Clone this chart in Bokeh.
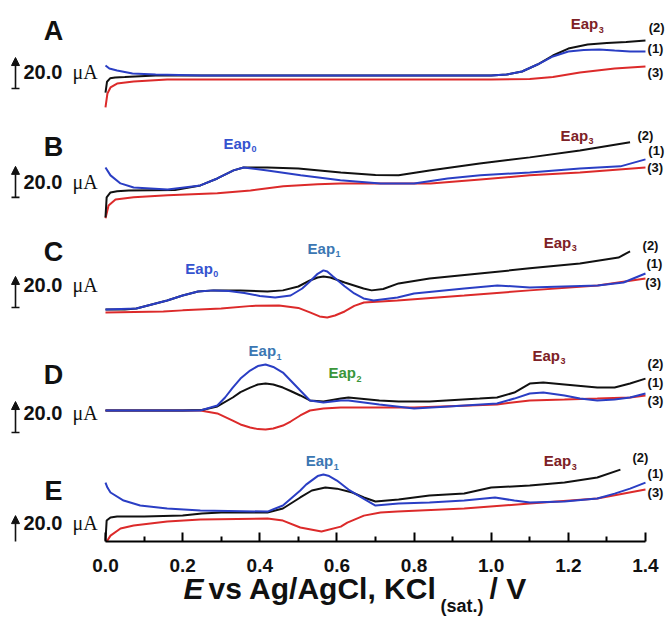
from bokeh.plotting import figure
from bokeh.layouts import column
from bokeh.models import (Range1d, FixedTicker, NumeralTickFormatter,
                          Label, Arrow, NormalHead, TeeHead)
from bokeh.embed import file_html
from bokeh.resources import INLINE

# ---------------- data: potential (V) / current (uA, relative to each panel's resting level)
# (1) blue, (2) black, (3) red
A_x1 = [0.0, 0.01, 0.03, 0.07, 0.13, 0.25, 0.5, 0.8, 1.0, 1.04, 1.08, 1.12, 1.16, 1.2, 1.24, 1.28, 1.32, 1.36, 1.4]
A_i1 = [6.5, 4.5, 3.2, 1.3, 0.6, 0, 0, 0, 0, 0.6, 2.6, 7.1, 12.3, 15.5, 16.5, 16.8, 16.1, 15.5, 15.5]
A_x2 = [0.0, 0.004, 0.012, 0.025, 0.05, 0.13, 0.4, 0.7, 1.0, 1.04, 1.08, 1.12, 1.16, 1.2, 1.25, 1.3, 1.35, 1.4]
A_i2 = [-11, -4, -1.8, -1.3, -1.0, 0, 0, 0, 0, 0.6, 2.6, 7.1, 12.9, 17.4, 20, 21, 21.6, 22.6]
A_x3 = [0.0, 0.005, 0.013, 0.03, 0.073, 0.16, 0.5, 0.8, 1.0, 1.1, 1.16, 1.23, 1.32, 1.4]
A_i3 = [-20.6, -11.6, -7.7, -5.2, -3.9, -2.6, -2.6, -2.6, -2.6, -2.3, -1.0, 1.9, 4.5, 5.8]

B_x1 = [0.0, 0.013, 0.039, 0.073, 0.161, 0.246, 0.29, 0.332, 0.358, 0.42, 0.506, 0.609, 0.713, 0.8, 0.887, 0.972, 1.1, 1.23, 1.335, 1.4]
B_i1 = [14.8, 9.7, 4.5, 1.9, 0.6, 3.2, 7.7, 12.9, 14.8, 12.9, 9.7, 6.5, 4.5, 4.5, 7.7, 9.7, 11.6, 14.2, 15.5, 20]
B_x2 = [0.0, 0.003, 0.013, 0.03, 0.06, 0.18, 0.246, 0.29, 0.332, 0.358, 0.42, 0.5, 0.61, 0.7, 0.76, 0.84, 0.97, 1.1, 1.23, 1.36]
B_i2 = [-17.4, -4.5, -1.3, -0.6, 0, 0.3, 3.2, 7.7, 12.9, 14.8, 14.8, 14.2, 11.6, 9.9, 9.7, 12.9, 17.4, 21.3, 25.8, 31]
B_x3 = [0.0, 0.008, 0.026, 0.073, 0.161, 0.29, 0.376, 0.461, 0.55, 0.609, 0.713, 0.843, 0.972, 1.1, 1.23, 1.4]
B_i3 = [-18, -9.7, -5.8, -4.5, -3.2, -1.9, 0, 2.6, 3.9, 4.5, 4.5, 4.5, 7.1, 9.7, 11.6, 14.8]

C_x1 = [0.0, 0.08, 0.12, 0.16, 0.2, 0.24, 0.28, 0.32, 0.36, 0.4, 0.44, 0.48, 0.51, 0.53, 0.55, 0.565, 0.575, 0.59, 0.62, 0.645, 0.669, 0.695, 0.757, 0.8, 0.93, 1.016, 1.1, 1.276, 1.343, 1.4]
C_i1 = [0, 0.6, 3.2, 5.8, 9, 11.6, 12.3, 11.9, 10.6, 8.7, 7.7, 9, 13.5, 18, 23, 25.2, 24.5, 21.3, 15, 10.3, 7.1, 5.8, 7.7, 10.3, 13.5, 15.5, 14.2, 15.5, 17.4, 23.2]
C_x2 = [0.0, 0.05, 0.08, 0.12, 0.16, 0.2, 0.24, 0.28, 0.35, 0.42, 0.46, 0.5, 0.53, 0.55, 0.565, 0.583, 0.62, 0.669, 0.69, 0.72, 0.76, 0.84, 0.97, 1.1, 1.23, 1.33, 1.36]
C_i2 = [0, 0, 0.6, 3.2, 5.8, 9, 11.6, 12.3, 12.3, 11.6, 12.3, 14.8, 18.7, 20.6, 21.3, 20.6, 17.4, 13.5, 12.3, 13.2, 16.8, 20, 23.2, 26.5, 29.7, 33.5, 37.4]
C_x3 = [0.0, 0.15, 0.2, 0.3, 0.38, 0.45, 0.5, 0.53, 0.555, 0.575, 0.595, 0.62, 0.645, 0.67, 0.757, 0.93, 1.1, 1.276, 1.4]
C_i3 = [-1.9, -1.3, -0.6, 0.6, 2.3, 2.6, 1, -1.9, -4.5, -5.2, -3.9, -1.3, 2.3, 4.5, 5.8, 9, 12.3, 15.5, 20]

D_x1 = [0.0, 0.2, 0.246, 0.29, 0.31, 0.33, 0.35, 0.375, 0.395, 0.415, 0.435, 0.46, 0.48, 0.505, 0.53, 0.565, 0.61, 0.63, 0.71, 0.8, 0.89, 1.015, 1.06, 1.1, 1.135, 1.19, 1.23, 1.275, 1.32, 1.36, 1.4]
D_i1 = [0, 0, 0, 3.2, 8.4, 14.8, 20.6, 25.8, 28.7, 29.7, 28.1, 24.5, 19.4, 12.9, 6.5, 5.2, 6.5, 6.5, 3.9, 1.3, 2.6, 4.5, 7.7, 11, 11.6, 9.7, 7.7, 6.5, 7.1, 8.4, 11]
D_x2 = [0.0, 0.2, 0.25, 0.29, 0.33, 0.35, 0.375, 0.395, 0.415, 0.435, 0.46, 0.48, 0.505, 0.53, 0.565, 0.61, 0.63, 0.71, 0.76, 0.84, 0.97, 1.015, 1.06, 1.1, 1.135, 1.19, 1.275, 1.32, 1.36, 1.4]
D_i2 = [0, 0, 0.3, 2.6, 8.4, 11.9, 14.8, 16.8, 17.4, 16.8, 14.8, 12.6, 9.7, 6.5, 5.8, 7.7, 8.4, 6.5, 5.8, 5.8, 7.7, 8.4, 11.6, 17.4, 18, 16.8, 14.8, 14.8, 17.4, 20.6]
D_x3 = [0.0, 0.2, 0.246, 0.29, 0.33, 0.35, 0.375, 0.395, 0.415, 0.435, 0.46, 0.48, 0.505, 0.53, 0.565, 0.61, 0.8, 1.015, 1.1, 1.19, 1.275, 1.36, 1.4]
D_i3 = [0, 0, 0, -1.9, -6.5, -9, -11, -12, -12.3, -11.6, -9.7, -7.1, -3.2, 0, 1.3, 1.9, 1.9, 3.9, 6.5, 7.1, 7.7, 8.4, 9.7]

E_x1 = [0.0, 0.005, 0.013, 0.047, 0.09, 0.16, 0.246, 0.42, 0.46, 0.505, 0.52, 0.55, 0.565, 0.58, 0.6, 0.63, 0.66, 0.7, 0.76, 0.84, 0.93, 1.01, 1.06, 1.1, 1.19, 1.275, 1.32, 1.36, 1.4]
E_i1 = [21.9, 18.7, 15.5, 10.3, 7.1, 5.2, 3.9, 3.2, 7.1, 16.8, 20.6, 26.1, 27.1, 26.1, 23.2, 17.4, 12.9, 7.1, 8.4, 9, 10.3, 12.3, 10.3, 9, 9.7, 11.6, 14.8, 18, 21.9]
E_x2 = [0.0, 0.003, 0.013, 0.03, 0.1, 0.2, 0.25, 0.3, 0.42, 0.46, 0.505, 0.535, 0.57, 0.6, 0.64, 0.67, 0.7, 0.76, 0.84, 0.93, 1.0, 1.1, 1.19, 1.275, 1.335]
E_i2 = [-15.5, -2.6, -0.6, 0, 0, 0.6, 1.9, 2.6, 2.6, 5.2, 12.3, 16.8, 18.7, 18, 15.5, 12.3, 9.7, 11, 13.5, 14.8, 18.7, 20, 21.9, 25.2, 30.3]
E_x3 = [0.0, 0.013, 0.039, 0.073, 0.16, 0.246, 0.42, 0.46, 0.505, 0.56, 0.61, 0.627, 0.67, 0.713, 0.757, 0.93, 1.1, 1.275, 1.4]
E_i3 = [-17.4, -12.3, -7.7, -5.8, -3.2, -1.9, -1.3, -2.6, -7.1, -9.7, -6.5, -3.9, 0.6, 2.6, 3.2, 5.2, 8.4, 11.6, 17.4]

PANEL_NAMES = ["A", "B", "C", "D", "E"]
SCALE_UA = 20.0
SCALE_TEXT = "20.0"
X_TICKS = [0.0, 0.2, 0.4, 0.6, 0.8, 1.0, 1.2, 1.4]
X_MINOR = [0.1, 0.3, 0.5, 0.7, 0.9, 1.1, 1.3]

# ---------------- layout / style
BLUE, BLACK, RED = "#2a3ec4", "#111111", "#dc2a2a"
EAP_COL = {"0": "#3553cf", "1": "#3b77b3", "2": "#3a963a", "3": "#7d2126"}
SANS, SERIF = "Liberation Sans", "Liberation Serif"

PANEL_OFFSET = [300.6, 226.5, 149.7, 84.5, 16.1]
LETTER_DY = [29, 27.7, 36.8, 22.6, 16.8]
SCALE_TEXT_DY = [2, 5.2, 15.5, -1.3, -3.9]
SCALE_BOTTOM_DY = [-8.4, -4.5, 1.3, -14.2, -19.4]
# (panel, subscript, x left, dy)
EAP_LABELS = [(0, "3", 1.206, 33.5),
              (1, "0", 0.306, 30.3), (1, "3", 1.18, 35.5),
              (2, "0", 0.207, 26.5), (2, "1", 0.524, 39.4), (2, "3", 1.136, 43.5),
              (3, "1", 0.371, 38.7), (3, "2", 0.578, 24.5), (3, "3", 1.107, 35.5),
              (4, "1", 0.519, 36.1), (4, "3", 1.136, 36.1)]
# (panel, text, x centre, dy)
NUM_LABELS = [(0, "(2)", 1.429, 31), (0, "(1)", 1.426, 17.4), (0, "(3)", 1.426, 1.9),
              (1, "(2)", 1.40, 35.5), (1, "(1)", 1.428, 25.8), (1, "(3)", 1.425, 14.8),
              (2, "(2)", 1.413, 41.3), (2, "(1)", 1.423, 29.7), (2, "(3)", 1.42, 17.4),
              (3, "(2)", 1.426, 30.3), (3, "(1)", 1.426, 18), (3, "(3)", 1.426, 6.5),
              (4, "(2)", 1.387, 38.1), (4, "(1)", 1.426, 27.7), (4, "(3)", 1.426, 15.5)]

DATA = {
    "A": [(A_x3, A_i3, RED), (A_x2, A_i2, BLACK), (A_x1, A_i1, BLUE)],
    "B": [(B_x3, B_i3, RED), (B_x2, B_i2, BLACK), (B_x1, B_i1, BLUE)],
    "C": [(C_x3, C_i3, RED), (C_x2, C_i2, BLACK), (C_x1, C_i1, BLUE)],
    "D": [(D_x3, D_i3, RED), (D_x2, D_i2, BLACK), (D_x1, D_i1, BLUE)],
    "E": [(E_x3, E_i3, RED), (E_x2, E_i2, BLACK), (E_x1, E_i1, BLUE)],
}

XR = Range1d(-0.2722, 1.4545)
MAIN_H = 582

p = figure(width=666, height=MAIN_H, output_backend="svg", toolbar_location=None,
           x_range=XR, y_range=Range1d(0, 349.0),
           min_border_left=0, min_border_right=0, min_border_top=0,
           min_border_bottom=MAIN_H - 541, y_axis_location=None)
p.outline_line_color = None
p.grid.visible = False
p.background_fill_color = "white"
p.border_fill_color = "white"

ax = p.xaxis[0]
ax.ticker = FixedTicker(ticks=X_TICKS, minor_ticks=X_MINOR)
ax.formatter = NumeralTickFormatter(format="0.0")
ax.bounds = (X_TICKS[0], X_TICKS[-1])
ax.axis_line_width = 2
ax.major_tick_line_width = 2
ax.minor_tick_line_width = 2
ax.major_tick_in = 9
ax.major_tick_out = 0
ax.minor_tick_in = 5
ax.minor_tick_out = 0
ax.major_label_standoff = 17
ax.major_label_text_font = SANS
ax.major_label_text_font_style = "bold"
ax.major_label_text_font_size = "19px"
ax.major_label_text_color = "#111111"


def label(fig, x, y, text, size, style="bold", color="#111111", font=SANS,
          align="left", baseline="middle", xo=0, yo=0):
    fig.add_layout(Label(x=x, y=y, text=text, text_font=font, text_font_size=f"{size}px",
                         text_font_style=style, text_color=color, text_align=align,
                         text_baseline=baseline, x_offset=xo, y_offset=yo))


for k, name in enumerate(PANEL_NAMES):
    off = PANEL_OFFSET[k]
    for xs, ys, col in DATA[name]:
        p.line(xs, [v + off for v in ys], line_color=col, line_width=2)
    label(p, -0.1348, off + LETTER_DY[k], name, 27, align="center")
    yb = off + SCALE_BOTTOM_DY[k]
    p.add_layout(Arrow(x_start=-0.2333, y_start=yb, x_end=-0.2333, y_end=yb + SCALE_UA,
                       line_width=1.6, line_color="#111111",
                       end=NormalHead(size=8, fill_color="#111111", line_color="#111111"),
                       start=TeeHead(size=8, line_width=1.6, line_color="#111111")))
    label(p, -0.2126, off + SCALE_TEXT_DY[k], SCALE_TEXT, 20)
    label(p, -0.0856, off + SCALE_TEXT_DY[k], "\u03bcA", 20, style="normal", font=SERIF)

for k, sub, x, dy in EAP_LABELS:
    y = PANEL_OFFSET[k] + dy
    label(p, x, y, "Eap", 15, color=EAP_COL[sub])
    label(p, x, y, sub, 9, color=EAP_COL[sub], xo=28, yo=-6)

for k, txt, x, dy in NUM_LABELS:
    label(p, x, PANEL_OFFSET[k] + dy, txt, 13, align="center")

# ---------------- axis title strip (italic E and subscript), overlapping the tick-label margin
TITLE_H = 47
t = figure(width=666, height=TITLE_H, output_backend="svg", toolbar_location=None,
           x_range=XR, y_range=Range1d(0, TITLE_H), min_border=0,
           x_axis_location=None, y_axis_location=None, margin=(617 - MAIN_H - TITLE_H, 0, 0, 0))
t.outline_line_color = None
t.grid.visible = False
t.background_fill_alpha = 0
t.border_fill_alpha = 0


def vx(px):
    return (px - 105) / 385.7


YT = 29
label(t, vx(183), YT, "E", 30, style="bold italic")
label(t, vx(208), YT, "vs Ag/AgCl, KCl", 30)
label(t, vx(440), YT - 17, "(sat.)", 18)
label(t, vx(489), YT, "/ V", 30)

open("out.html", "w").write(file_html(column(p, t, spacing=0), INLINE))
